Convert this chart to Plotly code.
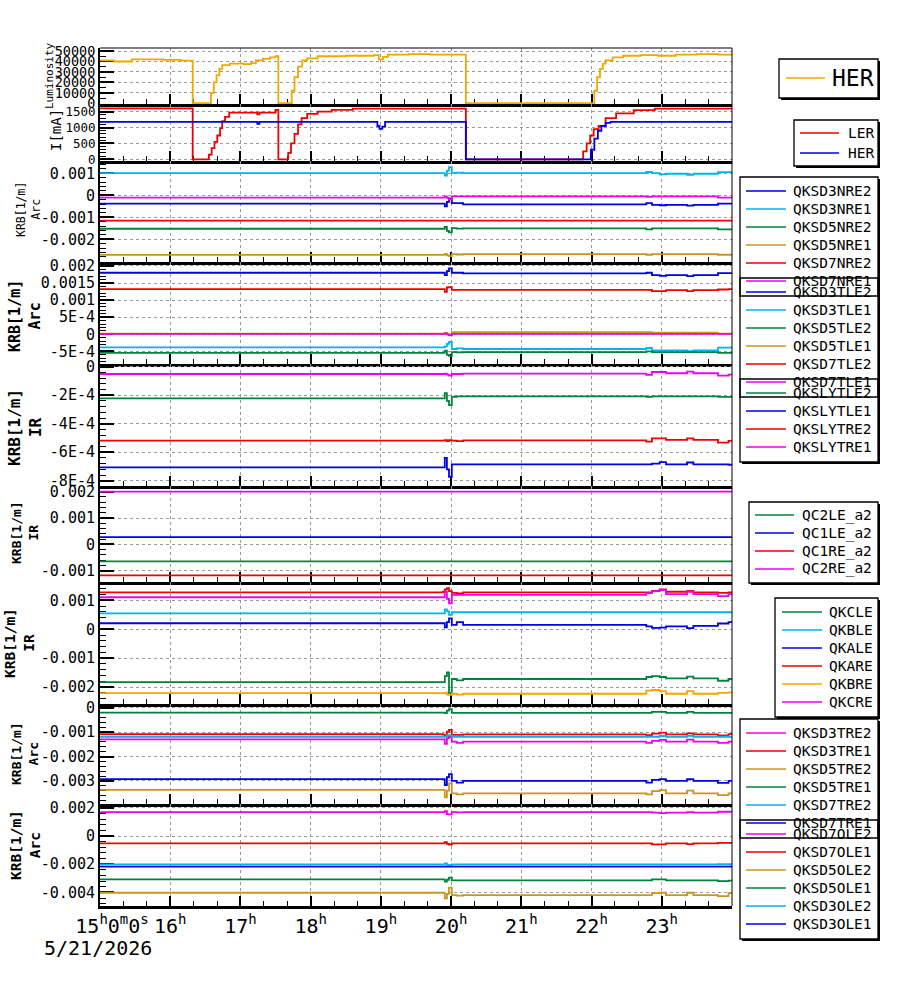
import plotly.graph_objects as go

# ================= DATA =================
HOURS = [15, 16, 17, 18, 19, 20, 21, 22, 23]
HOUR_LABELS = ['&nbsp;&nbsp;15<sup>h</sup>0<sup>m</sup>0<sup>s</sup>', '16<sup>h</sup>', '17<sup>h</sup>',
               '18<sup>h</sup>', '19<sup>h</sup>', '20<sup>h</sup>', '21<sup>h</sup>',
               '22<sup>h</sup>', '23<sup>h</sup>']
DATE_LABEL = '5/21/2026'
T_END = 24.0

# Panel 1: HER luminosity (step data)
LUMI_T = [15.00, 15.20, 15.45, 15.90, 16.15, 16.32, 16.55, 16.58, 16.62, 16.66, 16.70, 16.74,
          16.85, 17.05, 17.15, 17.22, 17.32, 17.42, 17.50, 17.54, 17.70, 17.73, 17.77, 17.82,
          17.88, 17.95, 18.10, 18.50, 18.90, 18.97, 19.03, 19.10, 19.40, 19.70, 20.21, 22.00,
          22.04, 22.08, 22.12, 22.16, 22.20, 22.30, 22.45, 22.70, 22.95, 23.20, 23.50, 23.80]
LUMI_HER = [41000, 40000, 42000, 41500, 40800, 0, 0, 10000, 20000, 27000, 33000, 36500,
            38000, 37500, 38500, 41000, 42500, 44000, 45000, 0, 0, 12000, 25000, 35000,
            41000, 43000, 45000, 45500, 46000, 42000, 44500, 46500, 47000, 46500, 0, 0,
            12000, 25000, 33000, 38000, 41000, 44000, 45500, 46000, 45500, 46500, 47000, 46500]

# Panel 2: beam currents [mA]
LER_T = [15.00, 16.32, 16.52, 16.55, 16.59, 16.63, 16.67, 16.71, 16.74, 16.78, 16.84, 17.24,
         17.27, 17.50, 17.54, 17.65, 17.68, 17.72, 17.77, 17.82, 17.87, 17.95, 18.10, 18.30,
         18.60, 20.21, 21.84, 21.88, 21.93, 21.98, 22.03, 22.10, 22.20, 22.35, 22.60, 22.90]
LER_I = [1608, 0, 0, 150, 350, 550, 750, 980, 1200, 1340, 1470, 1420,
         1470, 1560, 0, 0, 200, 500, 800, 1100, 1300, 1430, 1500, 1560,
         1600, 0, 0, 250, 500, 750, 950, 1050, 1300, 1450, 1550, 1600]
HER_T = [15.00, 17.24, 17.27, 18.95, 18.98, 19.02, 19.06, 20.21, 21.95, 21.99, 22.04, 22.09,
         22.14, 22.20, 22.27]
HER_I = [1177, 1120, 1177, 1050, 960, 1030, 1177, 0, 0, 300, 650, 900,
         1050, 1150, 1177]

# KRB channels: common step times [h]
KRB_T = [15.00, 19.88, 19.91, 19.94, 19.97, 20.01, 20.08, 20.17, 22.78, 22.86, 22.97, 23.06,
         23.36, 23.45, 23.80, 23.95]

# Panel 3 (Arc, units 1e-3 1/m)
QKSD3NRE2 = [-0.38, -0.38, -0.50, -0.30, -0.15, -0.35, -0.35, -0.41, -0.35, -0.43, -0.45, -0.43, -0.47, -0.43, -0.38, -0.38]
QKSD3NRE1 = [1.01, 1.01, 0.90, 1.12, 1.28, 1.02, 1.03, 1.01, 1.06, 1.01, 0.95, 0.98, 0.93, 0.98, 1.05, 1.05]
QKSD5NRE2 = [-1.52, -1.52, -1.44, -1.62, -1.68, -1.49, -1.51, -1.50, -1.55, -1.50, -1.50, -1.50, -1.50, -1.50, -1.55, -1.55]
QKSD5NRE1 = [-2.71, -2.71, -2.66, -2.73, -2.76, -2.67, -2.69, -2.67, -2.70, -2.67, -2.67, -2.67, -2.67, -2.67, -2.70, -2.70]
QKSD7NRE2 = [-1.15, -1.15, -1.15, -1.15, -1.15, -1.15, -1.15, -1.15, -1.15, -1.15, -1.15, -1.15, -1.15, -1.15, -1.15, -1.15]
QKSD7NRE1 = [-0.10, -0.10, -0.05, -0.12, -0.18, -0.05, -0.05, -0.05, -0.07, -0.05, -0.05, -0.05, -0.05, -0.05, -0.10, -0.10]

# Panel 4 (Arc, 1e-3)
QKSD3TLE2 = [1.80, 1.80, 1.73, 1.85, 1.93, 1.80, 1.80, 1.78, 1.80, 1.73, 1.71, 1.73, 1.70, 1.73, 1.79, 1.79]
QKSD3TLE1 = [-0.38, -0.38, -0.35, -0.28, -0.22, -0.43, -0.41, -0.43, -0.40, -0.47, -0.47, -0.47, -0.49, -0.47, -0.39, -0.39]
QKSD5TLE2 = [-0.54, -0.54, -0.48, -0.60, -0.63, -0.52, -0.53, -0.52, -0.50, -0.52, -0.52, -0.52, -0.52, -0.52, -0.54, -0.54]
QKSD5TLE1 = [0.02, 0.02, 0.04, 0.00, -0.03, 0.06, 0.06, 0.06, 0.06, 0.05, 0.05, 0.05, 0.05, 0.05, 0.02, 0.02]
QKSD7TLE2 = [1.32, 1.32, 1.24, 1.37, 1.38, 1.30, 1.30, 1.30, 1.30, 1.26, 1.26, 1.29, 1.26, 1.29, 1.31, 1.32]
QKSD7TLE1 = [0.01, 0.01, 0.03, 0.00, -0.02, 0.01, 0.01, 0.01, 0.01, 0.01, 0.01, 0.01, 0.01, 0.01, 0.01, 0.01]

# Panel 5 (IR, units 1e-4)
QKSLYTLE2 = [-2.22, -2.22, -1.85, -2.40, -2.69, -2.12, -2.08, -2.08, -2.12, -2.08, -2.08, -2.08, -2.08, -2.08, -2.12, -2.12]
QKSLYTLE1 = [-7.06, -7.06, -6.40, -7.20, -7.72, -6.85, -6.85, -6.85, -6.85, -6.80, -6.70, -6.85, -6.72, -6.85, -6.85, -6.88]
QKSLYTRE2 = [-5.19, -5.19, -5.15, -5.22, -5.15, -5.19, -5.22, -5.17, -5.26, -5.03, -5.03, -5.14, -5.03, -5.14, -5.33, -5.20]
QKSLYTRE1 = [-0.51, -0.51, -0.48, -0.55, -0.62, -0.51, -0.51, -0.48, -0.58, -0.37, -0.37, -0.46, -0.35, -0.46, -0.62, -0.55]

# Panel 6 (IR, 1e-3)
QC2LE_a2 = [-0.65, -0.65, -0.65, -0.65, -0.65, -0.65, -0.65, -0.65, -0.65, -0.65, -0.65, -0.65, -0.65, -0.65, -0.65, -0.65]
QC1LE_a2 = [0.27, 0.27, 0.27, 0.27, 0.27, 0.27, 0.27, 0.27, 0.27, 0.27, 0.27, 0.27, 0.27, 0.27, 0.27, 0.27]
QC1RE_a2 = [-1.18, -1.18, -1.18, -1.18, -1.18, -1.18, -1.18, -1.18, -1.18, -1.18, -1.18, -1.18, -1.18, -1.18, -1.18, -1.18]
QC2RE_a2 = [2.00, 2.00, 2.00, 2.00, 2.00, 2.00, 2.00, 2.00, 2.00, 2.00, 2.00, 2.00, 2.00, 2.00, 2.00, 2.00]

# Panel 7 (IR, 1e-3)
QKCLE = [-1.83, -1.83, -1.62, -1.49, -2.21, -1.72, -1.77, -1.72, -1.65, -1.62, -1.65, -1.70, -1.64, -1.70, -1.78, -1.72]
QKBLE = [0.55, 0.55, 0.69, 0.62, 0.50, 0.59, 0.59, 0.59, 0.59, 0.59, 0.59, 0.59, 0.59, 0.59, 0.59, 0.59]
QKALE = [0.21, 0.21, 0.07, 0.25, 0.38, 0.15, 0.25, 0.15, 0.10, 0.05, 0.06, 0.10, 0.04, 0.12, 0.20, 0.25]
QKARE = [1.28, 1.30, 1.38, 1.42, 1.32, 1.26, 1.24, 1.28, 1.28, 1.33, 1.38, 1.30, 1.33, 1.28, 1.26, 1.28]
QKBRE = [-2.21, -2.21, -2.19, -2.26, -2.27, -2.23, -2.26, -2.23, -2.12, -2.10, -2.14, -2.23, -2.14, -2.23, -2.20, -2.18]
QKCRE = [1.11, 1.11, 1.30, 1.05, 0.90, 1.19, 1.19, 1.19, 1.25, 1.32, 1.36, 1.22, 1.30, 1.22, 1.15, 1.22]

# Panel 8 (Arc, 1e-3)
QKSD3TRE2 = [-1.30, -1.30, -1.48, -1.25, -1.20, -1.39, -1.44, -1.39, -1.44, -1.36, -1.32, -1.39, -1.31, -1.39, -1.44, -1.39]
QKSD3TRE1 = [-1.08, -1.10, -1.15, -0.98, -0.91, -1.11, -1.11, -1.09, -1.12, -1.06, -1.02, -1.09, -1.05, -1.09, -1.14, -1.08]
QKSD5TRE2 = [-3.37, -3.37, -3.67, -3.40, -3.10, -3.51, -3.55, -3.51, -3.55, -3.42, -3.38, -3.51, -3.40, -3.51, -3.58, -3.51]
QKSD5TRE1 = [-0.20, -0.20, -0.22, -0.12, -0.06, -0.21, -0.21, -0.21, -0.21, -0.17, -0.17, -0.21, -0.17, -0.21, -0.21, -0.21]
QKSD7TRE2 = [-1.19, -1.19, -1.19, -1.12, -1.12, -1.19, -1.19, -1.19, -1.19, -1.19, -1.16, -1.19, -1.15, -1.19, -1.19, -1.19]
QKSD7TRE1 = [-2.93, -2.93, -3.17, -2.85, -2.72, -3.00, -3.07, -3.00, -3.07, -2.96, -2.93, -3.00, -2.93, -3.00, -3.08, -3.00]

# Panel 9 (Arc, 1e-3)
QKSD7OLE2 = [1.70, 1.70, 1.76, 1.55, 1.53, 1.70, 1.67, 1.70, 1.70, 1.66, 1.62, 1.66, 1.70, 1.66, 1.72, 1.72]
QKSD7OLE1 = [-0.52, -0.52, -0.43, -0.55, -0.60, -0.52, -0.52, -0.52, -0.52, -0.59, -0.59, -0.52, -0.57, -0.52, -0.48, -0.48]
QKSD5OLE2 = [-4.02, -4.02, -4.42, -4.10, -3.66, -4.19, -4.22, -4.19, -4.19, -4.05, -4.02, -4.19, -4.02, -4.19, -4.26, -4.05]
QKSD5OLE1 = [-3.07, -3.07, -3.23, -3.10, -2.95, -3.14, -3.14, -3.14, -3.14, -3.07, -3.07, -3.14, -3.14, -3.14, -3.19, -3.16]
QKSD3OLE2 = [-2.01, -2.01, -1.94, -2.05, -2.05, -2.01, -2.01, -2.01, -2.01, -2.01, -2.01, -2.01, -2.01, -2.01, -2.00, -2.00]
QKSD3OLE1 = [-2.17, -2.17, -2.17, -2.17, -2.17, -2.17, -2.17, -2.17, -2.17, -2.17, -2.17, -2.17, -2.17, -2.17, -2.17, -2.17]

# Y tick values / labels per panel
Y_TICKVALS = [
    [0, 10000, 20000, 30000, 40000, 50000],
    [0, 500, 1000, 1500],
    [-0.002, -0.001, 0, 0.001],
    [-0.0005, 0, 0.0005, 0.001, 0.0015, 0.002],
    [-0.0008, -0.0006, -0.0004, -0.0002, 0],
    [-0.001, 0, 0.001, 0.002],
    [-0.002, -0.001, 0, 0.001],
    [-0.003, -0.002, -0.001, 0],
    [-0.004, -0.002, 0, 0.002],
]
Y_TICKTEXT = [
    ['0', '10000', '20000', '30000', '40000', '50000'],
    ['0', '500', '1000', '1500'],
    ['-0.002', '-0.001', '0', '0.001'],
    ['-5E-4', '0', '5E-4', '0.001', '0.0015', '0.002'],
    ['-8E-4', '-6E-4', '-4E-4', '-2E-4', '0'],
    ['-0.001', '0', '0.001', '0.002'],
    ['-0.002', '-0.001', '0', '0.001'],
    ['-0.003', '-0.002', '-0.001', '0'],
    ['-0.004', '-0.002', '0', '0.002'],
]
Y_TITLES = ['Luminosity', 'I[mA]', 'KRB[1/m]<br>Arc', '<b>KRB[1/m]<br>Arc</b>',
            '<b>KRB[1/m]<br>IR</b>', '<b>KRB[1/m]<br>IR</b>', '<b>KRB[1/m]<br>IR</b>',
            '<b>KRB[1/m]<br>Arc</b>', '<b>KRB[1/m]<br>Arc</b>']

# ================= STYLE / LAYOUT =================
C_BLUE = '#0000e6'
C_CYAN = '#00b4ee'
C_GREEN = '#00843c'
C_GOLD = '#c8961e'
C_RED = '#ee0000'
C_MAGENTA = '#ee00ee'
C_ORANGE = '#f0a800'
MONO = 'DejaVu Sans Mono'

# (panel, value scale, [(name, t, values, color)])
SERIES = [
    (1, 1, [('HER', LUMI_T, LUMI_HER, C_ORANGE)]),
    (2, 1, [('LER', LER_T, LER_I, C_RED), ('HER', HER_T, HER_I, C_BLUE)]),
    (3, 1e-3, [('QKSD3NRE2', KRB_T, QKSD3NRE2, C_BLUE), ('QKSD3NRE1', KRB_T, QKSD3NRE1, C_CYAN),
               ('QKSD5NRE2', KRB_T, QKSD5NRE2, C_GREEN), ('QKSD5NRE1', KRB_T, QKSD5NRE1, C_GOLD),
               ('QKSD7NRE2', KRB_T, QKSD7NRE2, C_RED), ('QKSD7NRE1', KRB_T, QKSD7NRE1, C_MAGENTA)]),
    (4, 1e-3, [('QKSD3TLE2', KRB_T, QKSD3TLE2, C_BLUE), ('QKSD3TLE1', KRB_T, QKSD3TLE1, C_CYAN),
               ('QKSD5TLE2', KRB_T, QKSD5TLE2, C_GREEN), ('QKSD5TLE1', KRB_T, QKSD5TLE1, C_GOLD),
               ('QKSD7TLE2', KRB_T, QKSD7TLE2, C_RED), ('QKSD7TLE1', KRB_T, QKSD7TLE1, C_MAGENTA)]),
    (5, 1e-4, [('QKSLYTLE2', KRB_T, QKSLYTLE2, C_GREEN), ('QKSLYTLE1', KRB_T, QKSLYTLE1, C_BLUE),
               ('QKSLYTRE2', KRB_T, QKSLYTRE2, C_RED), ('QKSLYTRE1', KRB_T, QKSLYTRE1, C_MAGENTA)]),
    (6, 1e-3, [('QC2LE_a2', KRB_T, QC2LE_a2, C_GREEN), ('QC1LE_a2', KRB_T, QC1LE_a2, C_BLUE),
               ('QC1RE_a2', KRB_T, QC1RE_a2, C_RED), ('QC2RE_a2', KRB_T, QC2RE_a2, C_MAGENTA)]),
    (7, 1e-3, [('QKCLE', KRB_T, QKCLE, C_GREEN), ('QKBLE', KRB_T, QKBLE, C_CYAN),
               ('QKALE', KRB_T, QKALE, C_BLUE), ('QKARE', KRB_T, QKARE, C_RED),
               ('QKBRE', KRB_T, QKBRE, C_ORANGE), ('QKCRE', KRB_T, QKCRE, C_MAGENTA)]),
    (8, 1e-3, [('QKSD3TRE2', KRB_T, QKSD3TRE2, C_MAGENTA), ('QKSD3TRE1', KRB_T, QKSD3TRE1, C_RED),
               ('QKSD5TRE2', KRB_T, QKSD5TRE2, C_GOLD), ('QKSD5TRE1', KRB_T, QKSD5TRE1, C_GREEN),
               ('QKSD7TRE2', KRB_T, QKSD7TRE2, C_CYAN), ('QKSD7TRE1', KRB_T, QKSD7TRE1, C_BLUE)]),
    (9, 1e-3, [('QKSD7OLE2', KRB_T, QKSD7OLE2, C_MAGENTA), ('QKSD7OLE1', KRB_T, QKSD7OLE1, C_RED),
               ('QKSD5OLE2', KRB_T, QKSD5OLE2, C_GOLD), ('QKSD5OLE1', KRB_T, QKSD5OLE1, C_GREEN),
               ('QKSD3OLE2', KRB_T, QKSD3OLE2, C_CYAN), ('QKSD3OLE1', KRB_T, QKSD3OLE1, C_BLUE)]),
]

W, H = 900, 984
PL, PR, PT, PB = 100, 732, 48, 906
EDGES = [48, 104, 161, 262, 364, 486, 582, 704, 804, 906]
Y_RANGES = [[-700, 52900], [-54, 1743], [-3.03e-3, 1.56e-3], [-0.868e-3, 2.114e-3],
            [-8.37e-4, 0.19e-4], [-1.433e-3, 2.217e-3], [-2.585e-3, 1.637e-3],
            [-3.947e-3, 0.152e-3], [-4.96e-3, 2.27e-3]]
Y_MINOR = [5000, 100, 0.0002, 0.0001, 0.00004, 0.0002, 0.0002, 0.0002, 0.0004]
Y_TICKSIZE = [13.5, 12.5, 15, 15, 15, 15, 15, 15, 15]
TITLE_X = [49, 56, 28, 25, 25, 25, 19, 25, 25]
TITLE_Y = [76, 130, 210, 316, 428, 533, 643, 754, 845]
TITLE_SIZE = [11, 14, 11.5, 15, 16, 13, 14.5, 13, 14.5]

# legend boxes (pixel): box, sample line x, text x, first item y, spacing, font size, panel
LEGENDS = [
    dict(box=(779, 59, 878, 98), lx=(786, 825), tx=830, y0=78, dy=0, fs=23, panel=1),
    dict(box=(794, 120, 878, 166), lx=(800, 839), tx=846, y0=133, dy=20, fs=14.5, panel=2),
    dict(box=(740, 177, 878, 296), lx=(746, 786), tx=791, y0=191, dy=18, fs=14.5, panel=3),
    dict(box=(740, 278, 878, 397), lx=(746, 786), tx=791, y0=292, dy=18, fs=14.5, panel=4),
    dict(box=(740, 379, 878, 462), lx=(746, 786), tx=791, y0=393, dy=18, fs=14.5, panel=5),
    dict(box=(749, 502, 878, 583), lx=(755, 794), tx=800, y0=515, dy=18, fs=14.5, panel=6),
    dict(box=(775, 598, 878, 717), lx=(782, 822), tx=827, y0=612, dy=18, fs=14.5, panel=7),
    dict(box=(740, 719, 878, 838), lx=(746, 786), tx=791, y0=733, dy=18, fs=14.5, panel=8),
    dict(box=(740, 820, 878, 939), lx=(746, 786), tx=791, y0=834, dy=18, fs=14.5, panel=9),
]


def px_x(p):
    return (p - PL) / (PR - PL)


def px_y(p):
    return (PB - p) / (PB - PT)


fig = go.Figure()

for panel, scale, items in SERIES:
    for name, t, vals, color in items:
        x = list(t) + [T_END]
        y = [v * scale for v in vals] + [vals[-1] * scale]
        fig.add_trace(go.Scatter(
            x=x, y=y, mode='lines', name=name, line=dict(color=color, width=1.8, shape='hv'),
            xaxis='x' if panel == 1 else f'x{panel}', yaxis='y' if panel == 1 else f'y{panel}',
            showlegend=False))

layout = dict(
    width=W, height=H, margin=dict(l=PL, r=W - PR, t=PT, b=H - PB),
    plot_bgcolor='white', paper_bgcolor='white', showlegend=False,
    font=dict(family=MONO, color='black'),
)
GRID = dict(showgrid=True, gridcolor='#999999', gridwidth=1, griddash='3px,3px', zeroline=False)
for k in range(1, 10):
    xs = '' if k == 1 else str(k)
    top, bot = EDGES[k - 1], EDGES[k]
    xa = dict(domain=[0, 1], anchor='y' + xs, range=[15, T_END], tickmode='array',
              tickvals=HOURS, ticktext=HOUR_LABELS, showticklabels=(k == 9), tickangle=0,
              ticks='inside', ticklen=10, tickwidth=1.5, tickcolor='black',
              showline=True, linecolor='black', linewidth=2.5, layer='below traces',
              tickfont=dict(family=MONO, size=20),
              minor=dict(tickmode='linear', tick0=15, dtick=1 / 3, ticks='inside', ticklen=5,
                         tickwidth=1, tickcolor='black', showgrid=False), **GRID)
    if k > 1:
        xa['matches'] = 'x'
    ya = dict(domain=[px_y(bot), px_y(top)], anchor='x' + xs, range=Y_RANGES[k - 1],
              tickmode='array', tickvals=Y_TICKVALS[k - 1], ticktext=Y_TICKTEXT[k - 1],
              ticks='inside', ticklen=14, tickwidth=1.5, tickcolor='black',
              showline=True, linecolor='black', linewidth=2, layer='below traces',
              tickfont=dict(family=MONO, size=Y_TICKSIZE[k - 1]),
              minor=dict(tickmode='linear', tick0=0, dtick=Y_MINOR[k - 1], ticks='inside',
                         ticklen=6, tickwidth=1, tickcolor='black', showgrid=False), **GRID)
    layout['xaxis' + xs] = xa
    layout['yaxis' + xs] = ya
fig.update_layout(**layout)

shapes = []
annotations = []
# outer thin frame lines (top and right)
shapes.append(dict(type='line', xref='paper', yref='paper', x0=0, x1=1, y0=1, y1=1,
                   line=dict(color='black', width=1)))
shapes.append(dict(type='line', xref='paper', yref='paper', x0=1, x1=1, y0=0, y1=1,
                   line=dict(color='black', width=1)))

# legends: fills, then borders, then samples
panel_items = {p: items for p, s, items in SERIES}
for lg in LEGENDS:
    x0, y0, x1, y1 = lg['box']
    shapes.append(dict(type='rect', xref='paper', yref='paper', x0=px_x(x0 + 2), x1=px_x(x1 + 2),
                       y0=px_y(y1 + 2), y1=px_y(y0 + 2), fillcolor='black', line=dict(width=0)))
    shapes.append(dict(type='rect', xref='paper', yref='paper', x0=px_x(x0), x1=px_x(x1),
                       y0=px_y(y1), y1=px_y(y0), fillcolor='white', line=dict(width=0)))
for lg in LEGENDS:
    x0, y0, x1, y1 = lg['box']
    shapes.append(dict(type='rect', xref='paper', yref='paper', x0=px_x(x0), x1=px_x(x1),
                       y0=px_y(y1), y1=px_y(y0), line=dict(color='black', width=1.3)))
for lg in LEGENDS:
    for i, (name, t, vals, color) in enumerate(panel_items[lg['panel']]):
        yy = lg['y0'] + i * lg['dy']
        shapes.append(dict(type='line', xref='paper', yref='paper', x0=px_x(lg['lx'][0]),
                           x1=px_x(lg['lx'][1]), y0=px_y(yy), y1=px_y(yy),
                           line=dict(color=color, width=1.3)))
        annotations.append(dict(text=name, xref='paper', yref='paper', x=px_x(lg['tx']),
                                y=px_y(yy), xanchor='left', yanchor='middle', showarrow=False,
                                font=dict(family=MONO, size=lg['fs'], color='black')))

# y-axis titles
for k in range(9):
    annotations.append(dict(text=Y_TITLES[k], xref='paper', yref='paper', x=px_x(TITLE_X[k]),
                            y=px_y(TITLE_Y[k]), xanchor='center', yanchor='middle',
                            textangle=-90, showarrow=False,
                            font=dict(family=MONO, size=TITLE_SIZE[k], color='black')))
# date label
annotations.append(dict(text=DATE_LABEL, xref='paper', yref='paper', x=px_x(42), y=px_y(948),
                        xanchor='left', yanchor='middle', showarrow=False,
                        font=dict(family=MONO, size=20, color='black')))

fig.update_layout(shapes=shapes, annotations=annotations)
fig.write_html('out.html')
